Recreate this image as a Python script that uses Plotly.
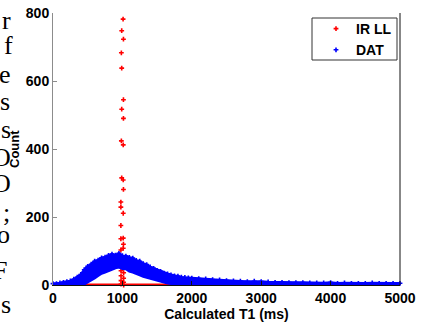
import plotly.graph_objects as go

# ---------------- data ----------------
# IR LL: histogram counts, nearly all counts sit in a narrow spike near 1000 ms
ir_t1 = [1010, 990, 1015, 985, 990, 1015, 990, 1015, 985, 1012, 990, 1012,
         1015, 978, 978, 1012, 978, 978, 1012, 1015, 1012, 978,
         980, 1018, 980, 1018, 980, 1018, 980, 1018]
ir_count = [782, 748, 723, 683, 638, 545, 517, 490, 424, 412, 315, 309,
            281, 244, 229, 211, 175, 136, 138, 120, 108, 103,
            42, 36, 27, 20, 13, 8, 3, 0]
# IR LL zero-count bins (visible as a red line along the baseline)
ir_zero_t1 = [250, 2800]
ir_zero_count = [0, 0]

# DAT: noisy histogram drawn as a band (upper / lower envelope of the points)
dat_t1 = [0, 50, 100, 150, 200, 250, 300, 350, 400, 450, 500, 550, 600, 650,
          700, 750, 800, 850, 900, 950, 1000, 1050, 1100, 1150, 1200, 1250,
          1300, 1350, 1400, 1450, 1500, 1550, 1600, 1650, 1700, 1750, 1800,
          1850, 1900, 1950, 2000, 2100, 2200, 2300, 2400, 2500, 2600, 2700,
          2800, 2900, 3000, 3100, 3200, 3300, 3400, 3500, 3600, 3700, 3800,
          3900, 4000, 4100, 4200, 4300, 4400, 4500, 4600, 4700, 4800, 4900, 5000]
dat_high = [4, 4, 6, 8, 10, 12, 17, 23, 31, 45, 55, 61, 70, 73,
            80, 82, 87, 91, 88, 93, 86, 85, 81, 79, 72, 70,
            63, 60, 53, 49, 43, 40, 35, 33, 30, 27, 26,
            23, 22, 21, 20, 19, 18, 16, 15, 13, 12, 11,
            10, 11, 10, 9, 8, 8, 7, 7, 7, 6, 6,
            6, 7, 5, 6, 5, 5, 5, 6, 5, 5, 5, 5]
dat_low = [0, 0, 0, 0, 0, 0, 0, 0, 0, 2, 8, 13, 20, 27,
           34, 37, 42, 45, 50, 52, 48, 47, 40, 37, 32, 29,
           25, 22, 20, 15, 12, 9, 7, 5, 4, 3, 2,
           0, 0, 0, 0, 0, 0, 0, 0, 0, 0, 0,
           0, 0, 0, 0, 0, 0, 0, 0, 0, 0, 0,
           0, 0, 0, 0, 0, 0, 0, 0, 0, 0, 0, 0]

x_ticks = [0, 1000, 2000, 3000, 4000, 5000]
y_ticks = [0, 200, 400, 600, 800]

RED = "#ff0000"
BLUE = "#0000ff"
FONT = "Liberation Sans"

# plot area in pixels
L, R, T, B = 53, 400, 13, 285
PW, PH = R - L, B - T


def px_x(px):
    return (px - L) / PW


def px_y(py):
    return (B - py) / PH


fig = go.Figure()

# red zero-count baseline
fig.add_trace(go.Scatter(x=ir_zero_t1, y=ir_zero_count, mode="lines",
                         line=dict(color=RED, width=3), showlegend=False,
                         hoverinfo="skip", cliponaxis=False))
# red spike
fig.add_trace(go.Scatter(x=ir_t1, y=ir_count, mode="markers", name="IR LL",
                         marker=dict(color=RED, size=4, symbol="cross"),
                         cliponaxis=False))
# blue band: lower edge then upper edge filled to it
fig.add_trace(go.Scatter(x=dat_t1, y=dat_low, mode="lines",
                         line=dict(color=BLUE, width=2.5), showlegend=False,
                         hoverinfo="skip", cliponaxis=False))
fig.add_trace(go.Scatter(x=dat_t1, y=dat_high, mode="lines",
                         line=dict(color=BLUE, width=2.5), fill="tonexty",
                         fillcolor=BLUE, showlegend=False, hoverinfo="skip",
                         cliponaxis=False))
# blue points along the envelope (legend entry)
fig.add_trace(go.Scatter(x=dat_t1, y=dat_high, mode="markers", name="DAT",
                         marker=dict(color=BLUE, size=4, symbol="cross"),
                         cliponaxis=False))

# fragments of the surrounding paper text at the left edge
frag = [("r", 20, 13), ("f", 45, 15), ("e", 74, 13), ("s", 102, 12),
        ("s", 129, 13), ("O", 157, 13), ("O", 183, 13), (";", 212, 12),
        ("o", 234, 12), ("F", 270, 9), ("s", 304, 13)]
annotations = []
for ch, py, px in frag:
    annotations.append(dict(text=ch, xref="paper", yref="paper",
                            x=px_x(px), y=px_y(py),
                            xanchor="right", yanchor="middle", showarrow=False,
                            font=dict(family="Liberation Serif", size=26,
                                      color="black")))
# y-axis title
annotations.append(dict(text="<b>Count</b>", xref="paper", yref="paper",
                        x=px_x(14), y=0.5, textangle=-90,
                        xanchor="center", yanchor="middle", showarrow=False,
                        font=dict(family=FONT, size=13, color="black")))

# legend frame (drawn as four lines)
lx0, lx1, ly0, ly1 = px_x(312), px_x(397), px_y(60), px_y(18)
frame_line = dict(color="#333333", width=1)
shapes = [
    dict(type="line", xref="paper", yref="paper", x0=1, x1=1,
         y0=0, y1=1, line=dict(color="#111111", width=1)),
    dict(type="line", xref="paper", yref="paper", x0=lx0, x1=lx1,
         y0=ly0, y1=ly0, line=frame_line, layer="above"),
    dict(type="line", xref="paper", yref="paper", x0=lx0, x1=lx1,
         y0=ly1, y1=ly1, line=frame_line, layer="above"),
    dict(type="line", xref="paper", yref="paper", x0=lx0, x1=lx0,
         y0=ly0, y1=ly1, line=frame_line, layer="above"),
    dict(type="line", xref="paper", yref="paper", x0=lx1, x1=lx1,
         y0=ly0, y1=ly1, line=frame_line, layer="above"),
]

fig.update_layout(
    width=425, height=324,
    margin=dict(l=L, r=425 - R, t=T, b=324 - B, autoexpand=False),
    paper_bgcolor="white", plot_bgcolor="white",
    font=dict(family=FONT, size=14, color="black"),
    showlegend=True,
    legend=dict(x=px_x(397), y=px_y(13), xanchor="right", yanchor="top",
                traceorder="normal",
                bgcolor="rgba(0,0,0,0)", borderwidth=0,
                font=dict(family=FONT, size=14, color="black", weight="bold"),
                tracegroupgap=0, itemwidth=30),
    xaxis=dict(range=[0, 5000], tickvals=x_ticks, showgrid=False,
               zeroline=False, showline=True, linecolor="#111111",
               linewidth=1, ticks="inside", ticklen=4, tickcolor="#111111",
               automargin=False,
               tickfont=dict(family=FONT, size=14, weight="bold"),
               title=dict(text="Calculated T1 (ms)", standoff=0,
                          font=dict(family=FONT, size=14, weight="bold"))),
    xaxis2=dict(range=[0, 5000], matches="x", overlaying="x", side="top",
                tickvals=x_ticks, showticklabels=False, showgrid=False,
                zeroline=False, showline=True, linecolor="#8c8c8c",
                automargin=False,
                ticks="inside", ticklen=4, tickcolor="#8c8c8c"),
    yaxis=dict(range=[0, 800], tickvals=y_ticks, showgrid=False,
               zeroline=False, showline=True, linecolor="#8c8c8c",
               linewidth=1, ticks="inside", ticklen=4, tickcolor="#8c8c8c",
               automargin=False,
               tickfont=dict(family=FONT, size=14, weight="bold")),
    annotations=annotations,
    shapes=shapes,
)

fig.write_html("out.html",
               config={"displayModeBar": False},
               post_script="document.body.style.margin='0';")
